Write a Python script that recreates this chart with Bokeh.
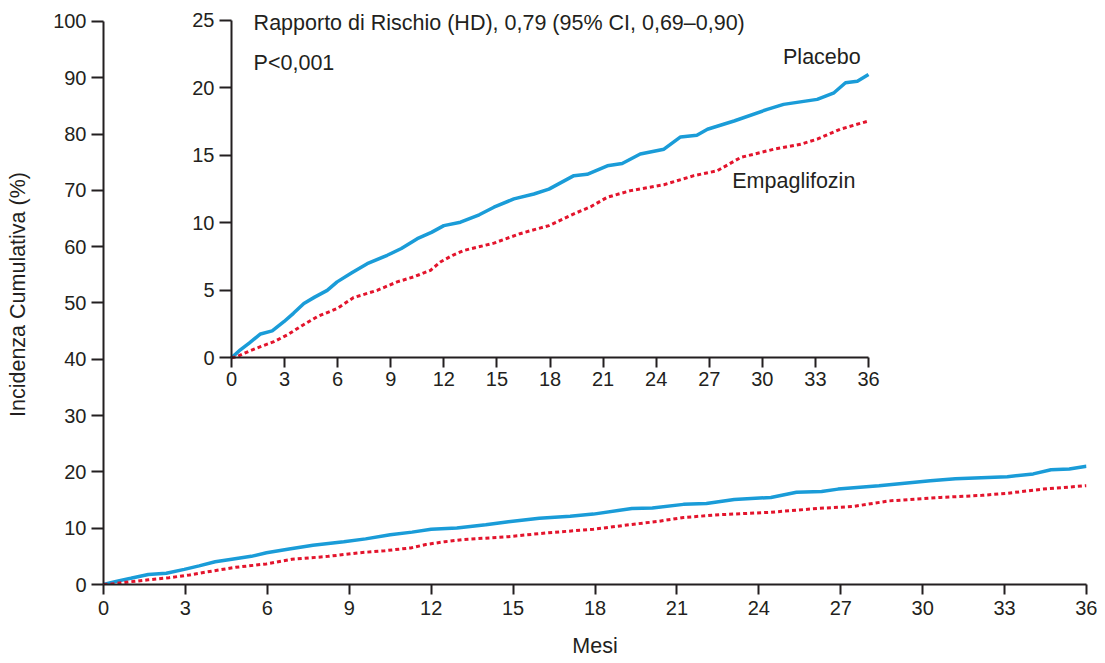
from bokeh.plotting import figure
from bokeh.models import Range1d, LinearAxis, FixedTicker
from bokeh.core.properties import value
from bokeh.embed import file_html
from bokeh.resources import INLINE

# ---- data (months, cumulative incidence %) ----
placebo_x = [0, 0.5, 1.0, 1.64, 2.3, 2.96, 3.5, 4.09, 4.7, 5.41, 5.97, 6.8, 7.67, 8.8, 9.6,
             10.5, 11.3, 12.0, 12.94, 14.0, 14.83, 15.96, 17.09, 17.94, 19.35, 20.1, 21.24,
             22.08, 23.1, 24.44, 25.38, 26.3, 26.9, 28.4, 30.28, 31.2, 33.1, 34.05, 34.7,
             35.37, 36.0]
placebo_y = [0, 0.6, 1.1, 1.77, 2.0, 2.68, 3.3, 4.03, 4.5, 5.0, 5.63, 6.3, 6.98, 7.6, 8.1,
             8.83, 9.3, 9.8, 10.05, 10.6, 11.16, 11.78, 12.14, 12.5, 13.5, 13.6, 14.23,
             14.4, 15.1, 15.46, 16.37, 16.5, 16.94, 17.55, 18.41, 18.78, 19.15, 19.64, 20.38,
             20.5, 21.0]
empa_x = [0, 0.32, 1.0, 1.64, 2.4, 3.15, 4.0, 4.84, 5.97, 6.9, 8.23, 9.36, 10.3, 11.25, 11.8,
          12.5, 13.13, 14.83, 16.3, 17.94, 19.35, 20.3, 21.24, 22.55, 24.44, 26.13, 27.45,
          28.78, 30.66, 32.17, 33.1, 34.4, 36.0]
empa_y = [0, 0.1, 0.5, 0.83, 1.2, 1.7, 2.4, 3.05, 3.66, 4.47, 5.0, 5.63, 6.0, 6.49, 7.1,
          7.6, 7.96, 8.5, 9.2, 9.8, 10.67, 11.2, 11.9, 12.39, 12.83, 13.5, 13.86,
          14.85, 15.46, 15.83, 16.2, 16.94, 17.55]

main_x_ticks = list(range(0, 37, 3))
main_y_ticks = list(range(0, 101, 10))
inset_x_ticks = list(range(0, 37, 3))
inset_y_ticks = list(range(0, 26, 5))

hr_text = "Rapporto di Rischio (HD), 0,79 (95% CI, 0,69\u20130,90)"
p_text = "P<0,001"
x_title = "Mesi"
y_title = "Incidenza Cumulativa (%)"

BLUE = "#1a9cd8"
RED = "#e3142c"
INK = "#231f20"
FONT = "Liberation Sans"
TICK_FS = "20px"
LABEL_FS = "21.5px"

p = figure(width=1097, height=660, output_backend="svg", toolbar_location=None,
           x_range=Range1d(0, 36), y_range=Range1d(0, 103.0),
           min_border_left=103, min_border_top=4, min_border_right=11, min_border_bottom=75)
p.outline_line_color = None
p.grid.visible = False
p.background_fill_color = "white"

# inset ranges (same frame, own scales)
p.extra_x_ranges = {"ix": Range1d(-7.234, 48.32)}
p.extra_y_ranges = {"iy": Range1d(-16.79, 26.18)}

def style_axis(ax, tick_out):
    ax.axis_line_color = INK
    ax.axis_line_width = 2
    ax.major_tick_line_color = INK
    ax.major_tick_line_width = 2
    ax.major_tick_out = tick_out
    ax.major_tick_in = 0
    ax.minor_tick_line_color = None
    ax.major_label_text_font = FONT
    ax.major_label_text_font_size = TICK_FS
    ax.major_label_text_color = INK
    ax.axis_label_text_font = FONT
    ax.axis_label_text_font_size = LABEL_FS
    ax.axis_label_text_font_style = "normal"
    ax.axis_label_text_color = INK

p.xaxis.ticker = FixedTicker(ticks=main_x_ticks)
p.yaxis.ticker = FixedTicker(ticks=main_y_ticks)
p.yaxis.bounds = (0, 100)
p.xaxis.axis_label = x_title
p.yaxis.axis_label = y_title
for ax in p.xaxis:
    style_axis(ax, 10)
for ax in p.yaxis:
    style_axis(ax, 12)
p.xaxis.major_label_standoff = 6
p.xaxis.axis_label_standoff = 16
p.yaxis.major_label_standoff = 5
p.yaxis.axis_label_standoff = 20

# main curves
p.line(placebo_x, placebo_y, line_color=BLUE, line_width=3.5)
p.line(empa_x, empa_y, line_color=RED, line_width=3, line_dash="4 3")

# inset axes
ix_axis = LinearAxis(x_range_name="ix", y_range_name="iy", fixed_location=0,
                     ticker=FixedTicker(ticks=inset_x_ticks), bounds=(0, 36))
iy_axis = LinearAxis(x_range_name="ix", y_range_name="iy", fixed_location=0,
                     ticker=FixedTicker(ticks=inset_y_ticks), bounds=(0, 25))
style_axis(ix_axis, 10)
style_axis(iy_axis, 12)
ix_axis.major_label_standoff = 4
iy_axis.major_label_standoff = 5
p.add_layout(ix_axis, "below")
p.add_layout(iy_axis, "left")

# inset curves
p.line(placebo_x, placebo_y, line_color=BLUE, line_width=3.5, x_range_name="ix", y_range_name="iy")
p.line(empa_x, empa_y, line_color=RED, line_width=3, line_dash="4 3",
       x_range_name="ix", y_range_name="iy")

# inset annotations
def note(x, y, txt, align):
    p.text(x=[x], y=[y], text=[txt], text_font=value(FONT), text_font_size=LABEL_FS,
           text_color=INK, text_baseline="middle", text_align=align,
           x_range_name="ix", y_range_name="iy")

note(1.25, 24.78, hr_text, "left")
note(1.25, 21.83, p_text, "left")
note(35.56, 22.27, "Placebo", "right")
note(28.3, 13.13, "Empaglifozin", "left")

open("out.html", "w").write(file_html(p, INLINE))
